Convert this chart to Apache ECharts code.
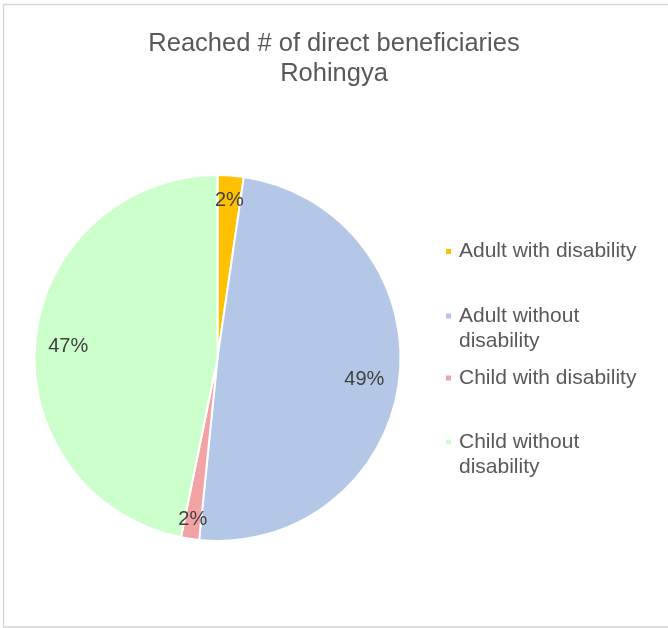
<!DOCTYPE html>
<html>
<head>
<meta charset="utf-8">
<script src="https://cdn.jsdelivr.net/npm/echarts@6/dist/echarts.min.js"></script>
<style>html,body{margin:0;padding:0;background:#fff}#c{width:668px;height:628px}</style>
</head>
<body>
<div id="c"></div>
<script>
const categories = ['Adult with disability', 'Adult without disability', 'Child with disability', 'Child without disability'];
const values = [2.3, 49.3, 1.6, 46.8];
const colors = ['#FFC000', '#B4C7E7', '#F4A3A5', '#CCFFCC'];
const titleText = 'Reached # of direct beneficiaries\nRohingya';

const legendTops = [239, 278.5, 365.5, 404.5];
const legendTwoLine = [false, true, false, true];
const labelOffsets = [[1, -7], [-3, 3], [-2, 12], [1, 4]];

const chart = echarts.init(document.getElementById('c'));
const font = '"Liberation Sans", Arial, sans-serif';

const legends = categories.map((name, i) => ({
  data: [name],
  orient: 'vertical',
  left: 444,
  top: legendTops[i],
  padding: 0,
  itemWidth: 7,
  itemHeight: 7,
  icon: 'rect',
  selectedMode: false,
  formatter: n => (legendTwoLine[i] ? '\n' : '') + n,
  textStyle: {
    fontFamily: font,
    fontSize: 21,
    color: '#595959',
    lineHeight: 25,
    width: 190,
    overflow: 'break',
    padding: [0, 0, 0, 2]
  }
}));

chart.setOption({
  animation: false,
  backgroundColor: '#fff',
  color: colors,
  title: {
    text: titleText,
    left: 'center',
    top: 24,
    textStyle: {
      fontFamily: font,
      fontSize: 25.5,
      fontWeight: 'normal',
      color: '#595959',
      lineHeight: 30
    }
  },
  legend: legends,
  graphic: [{
    type: 'rect',
    shape: { x: 3.5, y: 4.5, width: 670, height: 622.5 },
    style: { fill: 'none', stroke: '#d6d6d6', lineWidth: 1.3 },
    silent: true,
    z: -1
  }],
  series: [
    {
      type: 'pie',
      center: [217.5, 358],
      radius: [0, 183],
      startAngle: 90,
      clockwise: true,
      label: { show: false },
      labelLine: { show: false },
      itemStyle: { borderColor: '#fff', borderWidth: 2 },
      emphasis: { disabled: true },
      data: categories.map((n, i) => ({ name: n, value: values[i], itemStyle: { color: colors[i] } }))
    },
    {
      type: 'pie',
      center: [217.5, 358],
      radius: [113, 183],
      startAngle: 90,
      clockwise: true,
      silent: true,
      legendHoverLink: false,
      itemStyle: { color: 'rgba(0,0,0,0)', borderWidth: 0 },
      emphasis: { disabled: true },
      labelLine: { show: false },
      label: {
        show: true,
        position: 'inside',
        fontFamily: font,
        fontSize: 20,
        color: '#404040',
        formatter: p => Math.round(p.percent) + '%'
      },
      data: categories.map((n, i) => ({ name: n, value: values[i], label: { offset: labelOffsets[i] } }))
    }
  ]
});
</script>
</body>
</html>
